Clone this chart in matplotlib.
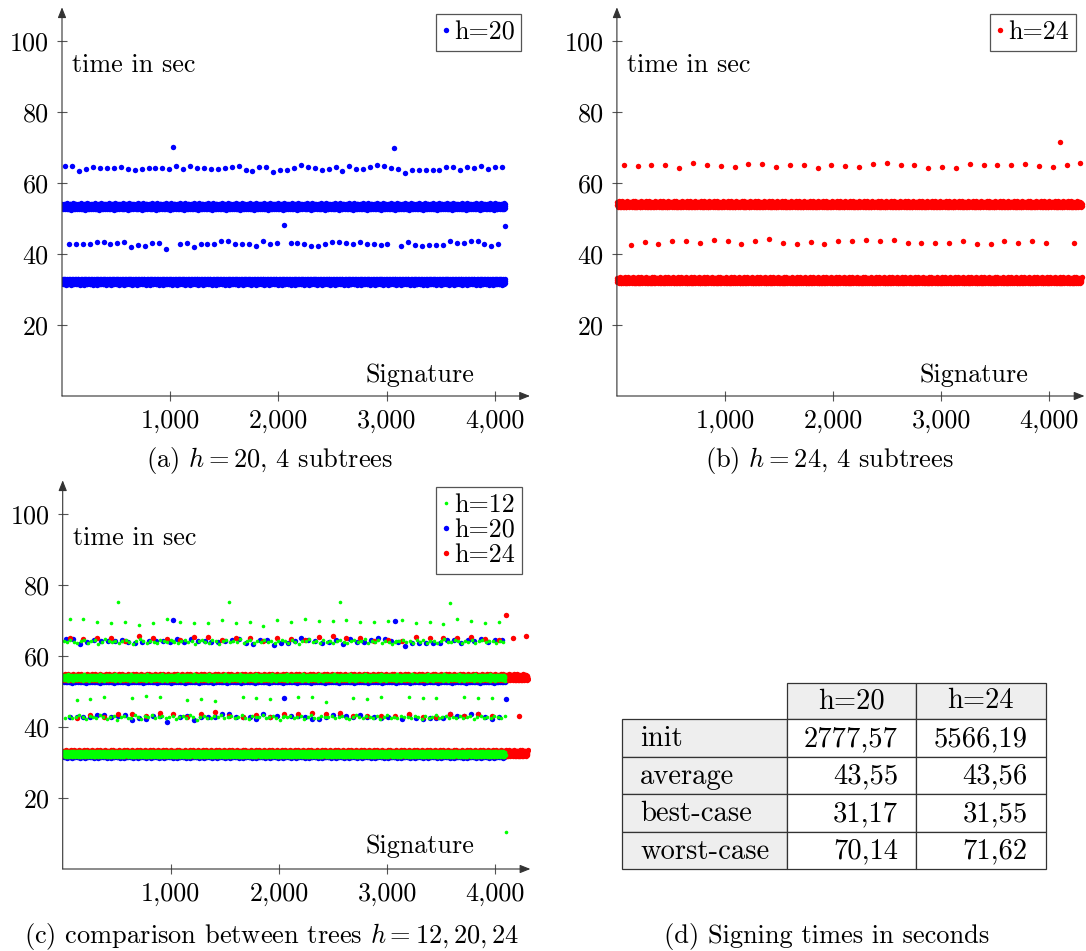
import numpy as np
import matplotlib
matplotlib.use("Agg")
import matplotlib.pyplot as plt
from matplotlib.lines import Line2D
from matplotlib.patches import Rectangle

plt.rcParams['font.family'] = 'cmr10'
plt.rcParams['mathtext.fontset'] = 'cm'
plt.rcParams['axes.unicode_minus'] = False
plt.rcParams['axes.formatter.use_mathtext'] = True

# ---------------- data ----------------
n_sig_h20 = 4096
n_sig_h24 = 4300
n_sig_h12 = 4096

# h=20: sparse rows (every 64 signatures, alternating)
h20_row64 = [64.9, 64.7, 63.4, 63.9, 64.6, 64.1, 64.2, 64.2, 64.5, 64.0, 63.8, 63.9, 64.1, 64.3, 64.1, 63.9,
             64.9, 63.9, 64.7, 64.3, 64.3, 63.9, 63.9, 64.3, 64.6, 64.8, 63.8, 63.4, 64.6, 64.6, 63.2, 63.7,
             63.8, 64.3, 65.0, 64.6, 64.3, 63.8, 64.0, 64.4, 63.4, 64.9, 64.0, 63.9, 64.6, 65.0, 64.8, 64.1,
             63.9, 62.9, 63.8, 63.8, 63.6, 63.6, 63.8, 64.4, 64.6, 63.7, 64.4, 64.3, 64.9, 63.9, 64.4, 64.4]
h20_row43 = [42.7, 42.7, 42.7, 42.7, 43.3, 43.3, 42.8, 43.2, 43.3, 42.1, 42.5, 42.2, 43.1, 43.1, 41.4, 70.14,
             42.7, 43.1, 42.0, 42.7, 42.7, 42.7, 43.8, 43.7, 42.7, 42.7, 42.7, 42.3, 43.6, 42.9, 43.2, 48.1,
             43.1, 43.2, 42.7, 42.3, 42.3, 42.9, 43.4, 43.4, 43.0, 42.9, 43.3, 42.7, 42.7, 42.4, 42.9, 70.0,
             42.3, 43.3, 42.4, 42.2, 42.4, 42.4, 42.5, 43.6, 43.1, 43.1, 43.7, 43.6, 42.8, 42.3, 42.7, 48.0]
h20_bands = [32.2, 53.4]

# h=24: sparse rows (every 128 signatures, alternating)
h24_row65 = [65.0, 64.9, 65.1, 65.0, 64.1, 65.7, 65.2, 64.8, 64.4, 65.4, 65.3, 64.6, 65.0, 65.0, 64.2, 65.0, 64.8,
             64.4, 65.4, 65.6, 65.1, 65.0, 64.2, 64.5, 64.2, 65.4, 65.1, 65.0, 65.0, 65.3, 64.7, 64.4, 65.0, 65.6]
h24_row43 = [42.6, 43.5, 42.9, 43.6, 43.8, 43.1, 43.9, 43.8, 42.8, 43.8, 44.2, 43.1, 42.8, 43.3, 42.7, 43.6, 43.6,
             43.9, 43.8, 43.9, 43.2, 43.2, 43.1, 43.2, 43.7, 42.7, 42.7, 43.6, 43.0, 43.7, 43.1, 71.62, 43.0]
h24_bands = [32.6, 54.0]

# h=12: sparse rows
h12_row70 = [70.3, 70.4, 69.7, 69.2, 69.5, 68.7, 69.2, 70.3, 69.6, 69.4, 69.4, 70.2, 69.4, 69.5, 68.5, 70.2,
             69.6, 70.4, 69.9, 70.0, 70.1, 69.5, 69.6, 69.9, 70.1, 69.3, 69.6, 69.1, 70.3, 69.9, 69.4, 69.5]
h12_row48 = [47.6, 47.8, 48.5, 75.2, 48.2, 48.7, 48.5, 64.3, 47.6, 48.0, 47.4, 75.1, 48.5, 48.2, 48.0, 43.0,
             48.4, 48.5, 47.1, 75.3, 48.2, 47.8, 48.4, 64.0, 48.5, 48.2, 48.2, 75.0, 48.5, 48.3, 48.2, 10.3]
h12_row64 = [64.3, 63.9, 64.5, 64.0, 63.6, 64.2, 64.6, 63.8, 64.1, 64.4, 63.5, 64.0, 64.7, 64.2, 63.9, 64.3,
             63.7, 64.1, 64.5, 64.0, 63.4, 64.2, 64.8, 64.1, 63.8, 64.3, 64.0, 63.6, 64.4, 64.2, 63.9, 64.6,
             64.0, 63.7, 64.3, 64.5, 63.9, 64.1, 63.5, 64.2, 64.6, 64.0, 63.8, 64.4, 64.1, 63.3, 64.2, 64.5,
             63.9, 64.3, 64.0, 64.7, 63.8, 64.1, 64.4, 63.6, 64.2, 64.0, 64.5, 63.9, 64.3, 63.7, 64.1, 64.6,
             64.2, 63.8, 64.4, 64.0, 63.5, 64.3, 64.1, 64.7, 63.9, 64.2, 63.7, 64.5, 64.0, 64.3, 63.8, 64.1,
             64.6, 64.0, 63.6, 64.2, 64.4, 63.9, 64.1, 64.8, 63.7, 64.3, 64.0, 64.5, 63.8, 64.2, 64.0, 63.4,
             64.3, 64.1, 64.6, 63.9, 64.2, 63.7, 64.4, 64.0, 64.5, 63.8, 64.1, 64.3, 63.6, 64.2, 64.7, 64.0,
             63.9, 64.4, 64.1, 63.7, 64.3, 64.0, 64.5, 63.8, 64.2, 64.6, 63.9, 64.1, 64.3, 63.7, 64.2, 64.0]
h12_row43 = [42.6, 43.0, 42.4, 42.9, 43.3, 42.7, 42.2, 43.1, 42.8, 42.5, 43.4, 42.9, 42.3, 42.7, 43.0, 42.1,
             42.9, 43.2, 42.6, 42.4, 43.5, 42.8, 42.2, 43.0, 42.7, 43.3, 42.5, 42.9, 43.1, 42.4, 42.8, 43.2,
             42.3, 42.7, 43.0, 42.5, 43.4, 42.9, 42.1, 42.8, 43.2, 42.6, 42.4, 43.0, 42.7, 43.3, 42.5, 42.9,
             43.1, 42.4, 42.8, 43.5, 42.6, 42.2, 43.0, 42.7, 42.9, 43.3, 42.4, 42.8, 43.1, 42.5, 42.0, 42.9,
             42.7, 43.2, 42.5, 42.9, 43.0, 42.3, 42.8, 43.4, 42.6, 42.4, 43.1, 42.7, 42.9, 43.2, 42.5, 42.8,
             43.0, 42.6, 42.3, 42.9, 43.3, 42.7, 42.4, 43.1, 42.8, 42.5, 43.0, 42.2, 42.9, 43.4, 42.6, 42.8,
             42.4, 43.1, 42.7, 42.9, 42.5, 43.2, 42.8, 42.3, 43.0, 42.6, 42.9, 43.3, 42.4, 42.7, 43.1, 42.5,
             42.9, 42.6, 43.2, 42.4, 42.8, 43.0, 42.3, 42.7, 43.1, 42.5, 42.9, 42.6, 43.2, 42.8, 42.4, 43.0]
h12_bands = [32.4, 53.9]

# spread of the dense bands around their level
band_jitter = [0.14, -0.41, 0.56, -0.09, 0.73, -0.61, 0.06, 0.36, -0.78, 0.26, -0.21, 0.64, -0.48, 0.10, 0.84,
               -0.32, -0.04, 0.44, -0.69, 0.20, -0.87, 0.51, 0.01, -0.26, 0.77, -0.55, 0.33, -0.13, 0.60, -0.73,
               0.22, -0.44, 0.08, 0.69, -0.34, -0.63, 0.41, -0.07, 0.90, -0.51, 0.16, -0.83, 0.30, 0.54, -0.18,
               -0.38, 0.71, -0.68, 0.03, 0.48, -0.28, 0.80, -0.57, 0.13, -0.02, 0.38, -0.77, 0.28, -0.43, 0.62,
               -0.15]

xticks = [1000, 2000, 3000, 4000]
xtick_labels = ['1,000', '2,000', '3,000', '4,000']
yticks = [20, 40, 60, 80, 100]

table_cols = ['h=20', 'h=24']
table_rows = ['init', 'average', 'best-case', 'worst-case']
table_h20 = [2777.57, 43.55, 31.17, 70.14]
table_h24 = [5566.19, 43.56, 31.55, 71.62]


def build_series(n, sparse, bands, jitter):
    x = np.arange(1, n + 1)
    y = np.zeros(n)
    used = np.zeros(n, dtype=bool)
    for pos, vals in sparse:
        idx = np.asarray(pos) - 1
        y[idx] = vals
        used[idx] = True
    lo = (x % 2 == 1) & ~used
    hi = (x % 2 == 0) & ~used
    y[lo] = bands[0] + np.resize(np.array(jitter), lo.sum())
    y[hi] = bands[1] + np.resize(np.array(jitter)[::-1], hi.sum())
    return x, y


x20, y20 = build_series(n_sig_h20,
                        [(32 + 64 * np.arange(len(h20_row64)), h20_row64),
                         (64 * np.arange(1, len(h20_row43) + 1), h20_row43)],
                        h20_bands, band_jitter)
x24, y24 = build_series(n_sig_h24,
                        [(64 + 128 * np.arange(len(h24_row65)), h24_row65),
                         (128 * np.arange(1, len(h24_row43) + 1), h24_row43)],
                        h24_bands, band_jitter)
x12, y12 = build_series(n_sig_h12,
                        [(64 + 128 * np.arange(len(h12_row70)), h12_row70),
                         (128 * np.arange(1, len(h12_row48) + 1), h12_row48),
                         (8 + 32 * np.arange(len(h12_row64)), h12_row64),
                         (24 + 32 * np.arange(len(h12_row43)), h12_row43)],
                        h12_bands, band_jitter)

# ---------------- figure ----------------
W, H = 1086, 951
fig = plt.figure(figsize=(W / 100, H / 100), dpi=100)
FS = 18.8
AXC = '#333333'
MS_BIG = 3.9
MS_SMALL = 2.6
XMAX, YMAX = 4325, 109.5


def add_ax(l, r, t, b):
    return fig.add_axes([l / W, 1 - b / H, (r - l) / W, (b - t) / H])


def style(ax):
    ax.set_xlim(0, XMAX)
    ax.set_ylim(0, YMAX)
    for s in ['top', 'right', 'left', 'bottom']:
        ax.spines[s].set_visible(False)
    ax.set_xticks(xticks)
    ax.set_xticklabels(xtick_labels)
    ax.set_yticks(yticks)
    ax.set_yticklabels([str(v) for v in yticks])
    ax.tick_params(direction='inout', length=7, width=0.8, color='#555555',
                   labelsize=FS, pad=6)
    ax.set_facecolor('none')
    for xy, xyt in [((0, 1), (0, 0)), ((1, 0), (0, 0))]:
        ax.annotate('', xy=xy, xytext=xyt, xycoords='axes fraction',
                    arrowprops=dict(arrowstyle='-|>,head_length=0.45,head_width=0.18',
                                    color=AXC, lw=0.8, shrinkA=0, shrinkB=0,
                                    mutation_scale=14))


def labels(ax, xtime, xsig, ysig):
    ax.text(xtime, 91.4, 'time in sec', fontsize=FS, ha='left', va='baseline')
    ax.text(xsig, ysig, 'Signature', fontsize=FS, ha='right', va='baseline')


def legend(ax, handles, names, anchor):
    lg = ax.legend(handles, names, loc='upper right', bbox_to_anchor=anchor,
                   borderaxespad=0, fontsize=FS, handlelength=0.3, handletextpad=0.15,
                   borderpad=0.25, labelspacing=0.05, fancybox=False, framealpha=1,
                   edgecolor='#555555')
    lg.get_frame().set_linewidth(0.9)
    return lg


def handle(color, ms):
    return Line2D([], [], marker='o', ls='', ms=ms, mew=0, color=color)


# (a)
axa = add_ax(62, 530, 7.3, 396)
style(axa)
axa.plot(x20, y20, 'o', ms=MS_BIG, mew=0, color='#0000ff')
labels(axa, 89, 3812, 4.0)
legend(axa, [handle('#0000ff', MS_BIG)], ['h=20'], (0.981, 0.983))

# (b)
axb = add_ax(616.9, 1084.5, 7.3, 396)
style(axb)
axb.plot(x24, y24, 'o', ms=MS_BIG, mew=0, color='#ff0000', clip_on=False)
labels(axb, 93, 3807, 4.0)
legend(axb, [handle('#ff0000', MS_BIG)], ['h=24'], (0.981, 0.983))

# (c)
axc = add_ax(62.7, 530.4, 480.3, 869)
style(axc)
axc.plot(x20, y20, 'o', ms=MS_BIG, mew=0, color='#0000ff')
axc.plot(x24, y24, 'o', ms=MS_BIG, mew=0, color='#ff0000')
axc.plot(x12, y12, 'o', ms=MS_SMALL, mew=0, color='#00ff00')
labels(axc, 91, 3808, 4.4)
legend(axc, [handle('#00ff00', MS_SMALL), handle('#0000ff', MS_BIG), handle('#ff0000', MS_BIG)],
       ['h=12', 'h=20', 'h=24'], (0.981, 0.983))

# overlay in pixel coordinates for captions and table
ov = fig.add_axes([0, 0, 1, 1])
ov.set_xlim(0, W)
ov.set_ylim(H, 0)
ov.axis('off')

CFS = 19
ov.text(270, 461, '(a) $h = 20$, 4 subtrees', ha='center', va='center', fontsize=CFS)
ov.text(829, 461, '(b) $h = 24$, 4 subtrees', ha='center', va='center', fontsize=CFS)
ov.text(272, 937, '(c) comparison between trees $h = 12, 20, 24$', ha='center', va='center', fontsize=CFS)
ov.text(827, 936, '(d) Signing times in seconds', ha='center', va='center', fontsize=CFS)

# table
TFS = 20.6
col_x = [622.3, 787.3, 916.0, 1045.7]
row_y = [682.7, 719.3, 756.7, 794.3, 832.0, 869.3]
GRAY = '#eeeeee'
LC = '#333333'


def cell(x0, x1, y0, y1, fill):
    ov.add_patch(Rectangle((x0, y0), x1 - x0, y1 - y0, facecolor=fill,
                           edgecolor=LC, lw=0.9))


for j, name in enumerate(table_cols):
    cell(col_x[j + 1], col_x[j + 2], row_y[0], row_y[1], GRAY)
    ov.text((col_x[j + 1] + col_x[j + 2]) / 2, row_y[1] - 11, name, ha='center',
            va='baseline', fontsize=TFS)

for i, name in enumerate(table_rows):
    y0, y1 = row_y[i + 1], row_y[i + 2]
    cell(col_x[0], col_x[1], y0, y1, GRAY)
    ov.text(col_x[0] + 18, y1 - 10.7, name, ha='left', va='baseline', fontsize=TFS)
    for j, vals in enumerate([table_h20, table_h24]):
        cell(col_x[j + 1], col_x[j + 2], y0, y1, 'white')
        txt = f"{vals[i]:.2f}".replace('.', ',')
        ov.text(col_x[j + 2] - 18, y1 - 10.7, txt, ha='right', va='baseline', fontsize=TFS)

fig.savefig('out.png', dpi=100)
